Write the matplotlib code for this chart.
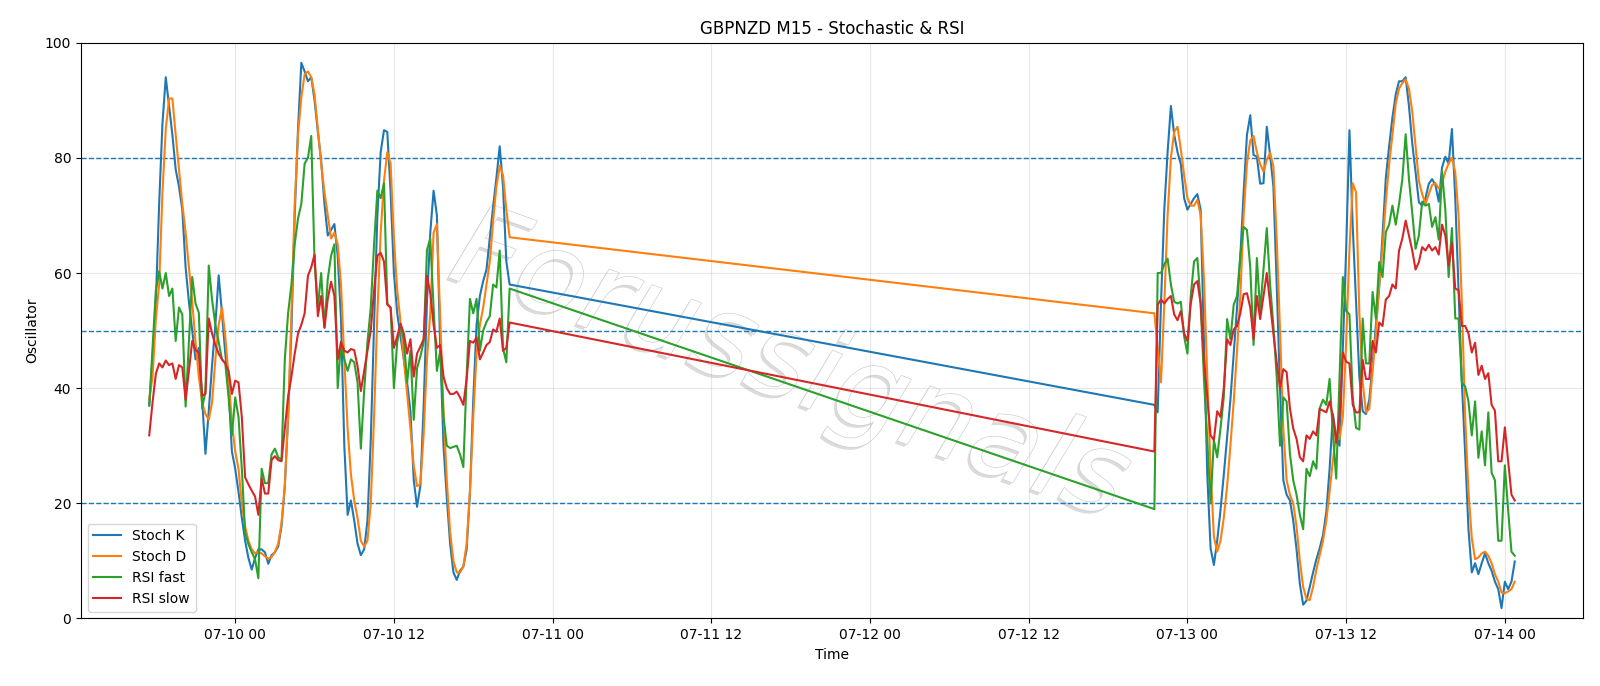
"""
GBPNZD M15 - Stochastic & RSI oscillator chart
"""

#######################################################################################
# Library
import matplotlib
matplotlib.use('Agg')
import matplotlib.pyplot as plt
import matplotlib.dates as mdates
import matplotlib.patheffects as pe
import pandas as pd
#######################################################################################

# -------------------------------------------------------------------------------------
# Chart text
sTitle = 'GBPNZD M15 - Stochastic & RSI'
sLabelX = 'Time'
sLabelY = 'Oscillator'
sWatermark = 'Forussignals'
a1sLegend = ['Stoch K', 'Stoch D', 'RSI fast', 'RSI slow']

# Session start times (15 min bars)
sTimeStart_S1 = '2020-07-09 17:30'
sTimeStart_S2 = '2020-07-12 21:30'
sTimeFreq = '15min'

# Oscillator levels
a1dLevels = [20, 50, 80]
a1dTicksY = [0, 20, 40, 60, 80, 100]
# -------------------------------------------------------------------------------------

# -------------------------------------------------------------------------------------
# Session 1 (07-09 17:30 -> 07-10 20:45)
a1dStochK_S1 = [
    37, 45, 55, 72, 86, 94, 89, 84, 78, 75,
    71, 61, 55, 50, 45, 47, 38, 28.6, 36, 44,
    51, 59.6, 53, 46, 40, 29, 26, 22, 17.5, 13.5,
    10.5, 8.5, 10.5, 12, 12, 11.5, 9.5, 11, 11.5, 12.5,
    16, 23, 35, 50, 70, 85, 96.5, 95, 93.3, 94,
    90, 84.5, 79.5, 72, 66.5, 67.5, 68.5, 63, 52,
    30, 18, 20.5, 17, 13, 11, 12, 17, 31, 51,
    70, 81, 84.8, 84.5, 74, 60, 53, 49, 45, 41,
    36, 24, 19.4, 23, 37, 55, 67, 74.3, 70, 47,
    30, 21, 13, 8, 6.7, 8.3, 9, 12, 22, 38,
    51, 56, 58.6, 60.6, 66, 71.5, 76.5, 82, 75, 62, 58]
a1dStochD_S1 = [
    38, 42, 52, 58, 74, 85, 90.3, 90.3, 84, 78,
    72, 67, 61, 55, 48, 42, 37.5, 35.5, 34.5, 37.5,
    45, 51, 54, 49, 42, 34, 29, 26, 20, 16,
    13.5, 12, 11.3, 11.6, 11.3, 10.8, 10.4, 10.7, 11.5, 13,
    16.5, 23, 35, 53, 72, 84, 90.5, 94.5, 95, 94,
    91, 85, 79, 74, 70, 66, 67, 65, 58,
    45, 33, 25, 20.5, 17.5, 13.5, 12.5, 13.5, 20, 35,
    53, 67, 76, 81, 79, 66, 57, 51.5, 45, 39,
    33, 26.5, 23, 23.3, 32, 45, 53, 67, 68.5, 52,
    36, 24, 15, 10, 8, 8, 9, 13, 22, 35,
    46, 51, 54, 58, 62, 69, 75, 78.6, 77, 71, 66.2]
a1dRsiFast_S1 = [
    37, 47, 57, 60.3, 57.3, 60, 56, 57.3, 48.2, 54,
    52.8, 36.8, 48, 59.3, 54.7, 53.1, 36.5, 39.5, 61.3, 55.4,
    51, 48, 45, 44.3, 38.4, 31.8, 38.4, 35, 26, 15,
    12.9, 11.5, 10.3, 7, 26, 23.5, 23.5, 28.5, 29.5, 28,
    27.5, 45, 53, 58, 65, 69.5, 72, 79, 80, 83.8,
    62, 54, 60, 50.5, 59, 63, 65, 40, 48,
    45, 43, 45, 44.5, 41, 29.5, 39.5, 48, 54, 65,
    74.3, 73, 75.6, 54.7, 54, 40, 48, 50.8, 48.5, 41,
    46.5, 34.5, 43.5, 45.5, 48, 64, 66, 54, 43, 46.5,
    35, 30, 29.6, 29.8, 30, 28.5, 26.3, 42, 55.5, 53,
    55.5, 46.5, 50, 51.5, 52.5, 58, 57.5, 63.9, 46.9, 44.5, 57.3]
a1dRsiSlow_S1 = [
    31.8, 37.5, 42.5, 44.3, 43.6, 44.8, 44, 44.3, 41.6, 44,
    43.6, 38, 43, 48.2, 46.6, 46.2, 38.7, 39, 52.1, 49.5,
    47.5, 46, 45, 44.3, 43, 39, 41.3, 41, 35, 24.5,
    23.3, 22.2, 21.2, 18, 24.3, 21.7, 21.7, 27.5, 28.2, 27.5,
    27.3, 33, 38.5, 42, 46, 49.5, 51, 53, 59.5, 61,
    63.2, 52.5, 56, 50.5, 55.5, 58.5, 56, 45, 48,
    46.5, 46.2, 46.8, 46.6, 43.8, 39.5, 43, 46.5, 50, 57,
    63, 63.5, 62, 54.5, 54, 47, 49, 51.2, 49.5, 46,
    48.5, 42, 46, 47.2, 48.5, 59.5, 56.5, 51, 47, 47.5,
    42, 40, 39, 39, 39.4, 38.4, 37.1, 41.6, 48.2, 47.9,
    48.8, 45, 46.2, 47.5, 48, 50.2, 49.8, 52.1, 46.5, 47, 51.4]
# -------------------------------------------------------------------------------------

# -------------------------------------------------------------------------------------
# Session 2 (07-12 21:30 -> 07-14 00:45)
a1dStochK_S2 = [
    37.1, 35.8, 54.7, 71, 81, 89, 84, 81, 78.9, 73,
    71, 72, 73, 73.7, 71, 48, 25, 12.2, 9.3, 13.5,
    18.8, 25, 31.5, 38, 46, 54, 63, 74, 84, 87.4,
    80.5, 80.2, 75.5, 75.6, 85.4, 80.5, 75, 58, 40, 24,
    21.5, 20.5, 17, 12, 6, 2.4, 3.1, 5.5, 8, 10.3,
    12.2, 14.5, 18.5, 26, 35.5, 31.5, 30, 47, 64,
    84.8, 68, 55, 42, 36, 35.5, 38, 44, 51, 57.5,
    66.5, 76.5, 82, 87, 91, 93.3, 93.3, 94, 89, 82.5,
    77.5, 72.3, 71.7, 73, 75.5, 76.3, 75.3, 72.4, 78.3, 80.2,
    79, 85, 73, 57, 41, 28.6, 15.5, 8, 9.6, 7.7,
    9.6, 11.3, 9.6, 8.3, 6.4, 5.1, 1.8, 6.4, 5.1, 6.4, 9.9]
a1dStochD_S2 = [
    53, 47, 41, 54.7, 70, 80, 84.5, 85.4, 81.5, 77,
    73, 71.7, 71.7, 72.7, 70, 59, 42, 26, 14.2, 11.6,
    13.5, 17.5, 23, 30, 37.7, 46.5, 56, 70, 79, 83,
    83.8, 81, 78.9, 77.6, 79.6, 80.9, 78.5, 66, 50, 33,
    24, 21.5, 20, 16, 10, 5.5, 3.4, 3.2, 5.5, 8.5,
    11, 13.5, 17, 22, 27.5, 31.8, 31.2, 35, 48,
    64, 75.6, 74, 53, 41, 35.8, 36.4, 43, 49.5, 58,
    64.5, 72.4, 78.9, 84, 89.4, 92, 93, 93.6, 92, 88,
    82, 76, 73.7, 72, 73.7, 75.3, 75.6, 74.7, 75.6, 77.6,
    79, 80, 77.5, 70, 55, 35, 22, 14, 10.3, 10.6,
    11.3, 11.6, 10.9, 9.6, 7.7, 6.4, 4.5, 4.4, 4.7, 5.1, 6.4]
a1dRsiFast_S2 = [
    19, 60, 60, 61.5, 62.5, 58, 55, 54.7, 55, 49,
    46, 56, 62, 62.6, 54.7, 41.6, 31, 20, 31, 28,
    33, 38.5, 52, 48.5, 54.5, 56, 63, 68, 67.5, 61,
    47.5, 62.6, 53.4, 60.6, 67.8, 58, 50.8, 42, 30, 38.4,
    37.7, 28.6, 24, 21.5, 18, 15.5, 26, 24.7, 27.3, 26,
    36.5, 38, 37.1, 41.6, 32, 24.3, 42, 59.3, 53.4,
    52.8, 38.4, 33.1, 32.8, 52.1, 44.3, 44.3, 56.7, 52.1, 61.9,
    59.3, 67.1, 68.4, 71.7, 68.4, 72, 76.3, 84.1, 76.3, 70.4,
    64.2, 66.5, 72.4, 71.7, 72, 68, 69.7, 65.8, 77.6, 71,
    59.3, 67.8, 52.1, 52.1, 41, 40.3, 37.7, 31.8, 37.7, 27.9,
    32.5, 26.6, 35.8, 25.3, 24, 13.5, 13.5, 26.6, 18.8, 11.6, 10.9]
a1dRsiSlow_S2 = [
    29, 54.5, 55.4, 54.7, 55.5, 56, 52.8, 51.8, 53.4, 49.5,
    48.2, 54.7, 58, 58.6, 54.7, 45, 38.4, 31.8, 31, 36,
    35, 40, 48.5, 47.5, 50.2, 50.8, 53, 56.3, 56.5, 54,
    48.5, 56, 52, 56, 60, 54.7, 49.5, 44.5, 40, 43.3,
    42.8, 36.5, 33, 31.2, 28, 27.3, 31.8, 31.2, 32.5, 31.8,
    36.4, 36.1, 35.8, 37.7, 35.1, 30.5, 35.1, 46.2, 44.6,
    44.3, 37.1, 35.8, 35.8, 44.9, 41.6, 41.6, 48.2, 46.2, 51.4,
    50.8, 55.4, 56, 58, 57.3, 63.9, 66, 69.1, 66.5, 63.9,
    60.6, 61.9, 64.5, 63.9, 64.9, 63.9, 64.5, 63.2, 68.4, 66.5,
    61.3, 65.2, 57.3, 57, 50.8, 50.8, 49.5, 46.2, 47.9, 42.3,
    43.9, 41.6, 42.6, 37.1, 36.1, 27.3, 27.3, 33.2, 27.3, 21.5, 20.5]
# -------------------------------------------------------------------------------------

# -------------------------------------------------------------------------------------
# Build time axis and series (weekend gap joined by the line)
oTime_S1 = pd.date_range(sTimeStart_S1, periods=len(a1dStochK_S1), freq=sTimeFreq)
oTime_S2 = pd.date_range(sTimeStart_S2, periods=len(a1dStochK_S2), freq=sTimeFreq)
oTime = oTime_S1.append(oTime_S2)

a2dSeries = [a1dStochK_S1 + a1dStochK_S2,
             a1dStochD_S1 + a1dStochD_S2,
             a1dRsiFast_S1 + a1dRsiFast_S2,
             a1dRsiSlow_S1 + a1dRsiSlow_S2]
# -------------------------------------------------------------------------------------

# -------------------------------------------------------------------------------------
# Figure
oFig = plt.figure(figsize=(16, 6.86), dpi=100)
oAx = oFig.add_axes([0.0506, 0.0984, 0.9388, 0.8394])

for a1dValues, sLabel in zip(a2dSeries, a1sLegend):
    oAx.plot(oTime, a1dValues, linewidth=1.5, label=sLabel, zorder=3)

for dLevel in a1dLevels:
    oAx.axhline(dLevel, color='#1f77b4', linestyle='--', linewidth=1.0, zorder=2)

# Watermark (light outlined italic text)
oAx.text(0.472, 0.435, sWatermark, transform=oAx.transAxes, fontsize=82,
         style='italic', rotation=-20, ha='center', va='center', color='white',
         zorder=1,
         path_effects=[pe.SimplePatchShadow(offset=(-2, -2), shadow_rgbFace='#b0b0b0', alpha=0.45),
                       pe.Stroke(linewidth=1.0, foreground='#cfcfcf'),
                       pe.Normal()])

oAx.set_ylim(0, 100)
oAx.set_yticks(a1dTicksY)
oAx.xaxis.set_major_locator(mdates.HourLocator(byhour=[0, 12]))
oAx.xaxis.set_major_formatter(mdates.DateFormatter('%m-%d %H'))
oAx.grid(True, alpha=0.3)

oAx.set_title(sTitle, fontsize=12)
oAx.set_xlabel(sLabelX)
oAx.set_ylabel(sLabelY)
oAx.legend(loc='lower left')

oFig.savefig('out.png', dpi=100)
# -------------------------------------------------------------------------------------
